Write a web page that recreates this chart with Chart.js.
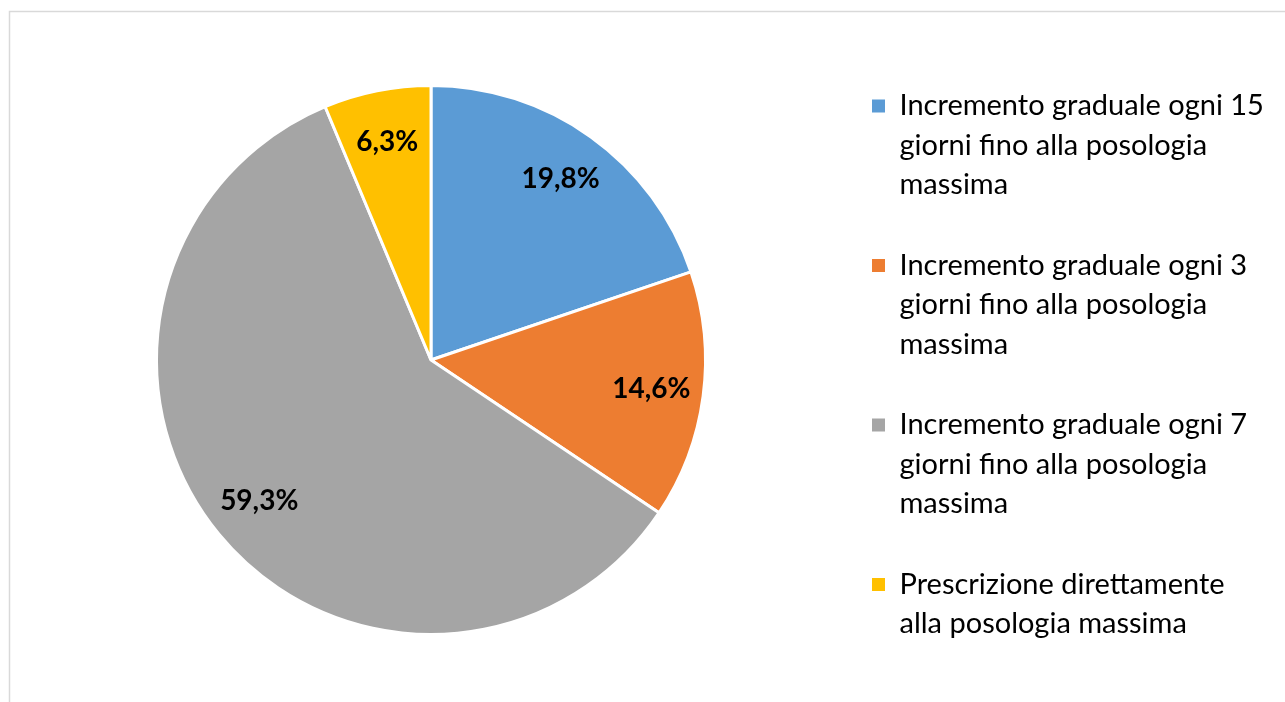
<!DOCTYPE html>
<html>
<head>
<meta charset="utf-8">
<script src="https://cdn.jsdelivr.net/npm/chart.js@4/dist/chart.umd.min.js"></script>
<style>
  html, body { margin: 0; padding: 0; background: #ffffff; }
  #wrap { position: relative; width: 1285px; height: 702px; }
  canvas { display: block; }
</style>
</head>
<body>
<div id="wrap"><canvas id="c" width="1285" height="702"></canvas></div>
<script>
// ---- data ----
const categories = [
  ["Incremento graduale ogni 15", "giorni fino alla posologia", "massima"],
  ["Incremento graduale ogni 3", "giorni fino alla posologia", "massima"],
  ["Incremento graduale ogni 7", "giorni fino alla posologia", "massima"],
  ["Prescrizione direttamente", "alla posologia massima"]
];
const percentages = [19.8, 14.6, 59.3, 6.3];
const sliceColors = ["#5B9BD5", "#ED7D31", "#A5A5A5", "#FFC000"];

// ---- layout constants ----
const LEGEND_PAD = 41;
const LEGEND_BOX_LEFT = 872;
const LEGEND_FIRST_Y = 91.5;
const FONT = "Lato, 'Open Sans', 'DejaVu Sans', sans-serif";

const frame = {
  id: 'frame',
  beforeDraw(chart) {
    const ctx = chart.ctx;
    ctx.save();
    ctx.strokeStyle = '#d9d9d9';
    ctx.lineWidth = 1.5;
    ctx.beginPath();
    ctx.moveTo(9.5, 702);
    ctx.lineTo(9.5, 11.5);
    ctx.lineTo(1285, 11.5);
    ctx.stroke();
    ctx.restore();
  }
};

const legendPlacer = {
  id: 'legendPlacer',
  beforeInit(chart) {
    const lg = chart.legend;
    if (!lg) return;
    const origFit = lg.fit;
    lg.fit = function() {
      origFit.call(this);
      this.width = 578;
    };
  },
  afterLayout(chart) {
    const lg = chart.legend;
    if (!lg) return;
    lg.left = LEGEND_BOX_LEFT - LEGEND_PAD;
    lg.right = 1285;
    lg.width = lg.right - lg.left;
    lg.top = LEGEND_FIRST_Y - LEGEND_PAD;
    lg.bottom = 702;
    lg.height = lg.bottom - lg.top;
  }
};

const dataLabels = {
  id: 'dataLabels',
  afterDatasetsDraw(chart) {
    const ctx = chart.ctx;
    const meta = chart.getDatasetMeta(0);
    ctx.save();
    ctx.font = "bold 28px " + FONT;
    ctx.fillStyle = '#000000';
    ctx.textAlign = 'center';
    ctx.textBaseline = 'middle';
    meta.data.forEach((arc, i) => {
      const p = arc.getProps(['x', 'y', 'startAngle', 'endAngle', 'outerRadius'], true);
      const mid = (p.startAngle + p.endAngle) / 2;
      const r = p.outerRadius * 0.81;
      const x = p.x + Math.cos(mid) * r;
      const y = p.y + Math.sin(mid) * r;
      const txt = percentages[i].toFixed(1).replace('.', ',') + '%';
      ctx.fillText(txt, x, y);
    });
    ctx.restore();
  }
};

const ctx = document.getElementById('c').getContext('2d');
const defaultGen = Chart.overrides.doughnut.plugins.legend.labels.generateLabels;

new Chart(ctx, {
  type: 'pie',
  data: {
    labels: categories,
    datasets: [{
      data: percentages,
      backgroundColor: sliceColors,
      borderColor: '#ffffff',
      borderWidth: 3
    }]
  },
  options: {
    responsive: false,
    animation: false,
    layout: { padding: { left: 155, right: 0, top: 84, bottom: 66 } },
    plugins: {
      tooltip: { enabled: false },
      legend: {
        position: 'right',
        align: 'start',
        labels: {
          boxWidth: 13,
          boxHeight: 13,
          padding: LEGEND_PAD,
          color: '#000000',
          font: { family: FONT, size: 29, lineHeight: 39.5 / 29 },
          generateLabels(chart) {
            return defaultGen(chart).map(it => Object.assign(it, { lineWidth: 0, strokeStyle: 'rgba(0,0,0,0)' }));
          }
        }
      }
    }
  },
  plugins: [frame, legendPlacer, dataLabels]
});
</script>
</body>
</html>
